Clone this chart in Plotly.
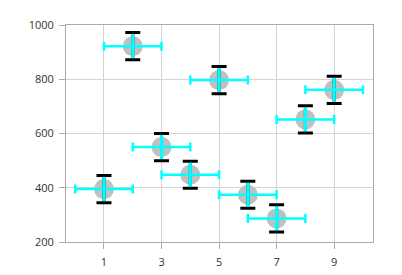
import plotly.graph_objects as go

x_vals = [1, 2, 3, 4, 5, 6, 7, 8, 9]
y_vals = [395, 922, 550, 448, 797, 374, 287, 652, 761]
y_err = [50, 50, 50, 50, 50, 50, 50, 50, 50]
x_err = [1, 1, 1, 1, 1, 1, 1, 1, 1]
x_ticks = [1, 3, 5, 7, 9]
y_ticks = [200, 400, 600, 800, 1000]

fig = go.Figure()
fig.add_trace(go.Scatter(
    x=x_vals, y=y_vals, mode="markers",
    marker=dict(size=20, color="#c0c0c0", line=dict(width=0)),
    hoverinfo="skip", showlegend=False))
fig.add_trace(go.Scatter(
    x=x_vals, y=y_vals, mode="markers",
    marker=dict(size=1, color="rgba(0,0,0,0)"),
    error_y=dict(type="data", array=y_err, color="black", thickness=3, width=7.5),
    hoverinfo="skip", showlegend=False))
fig.add_trace(go.Scatter(
    x=x_vals, y=y_vals, mode="markers",
    marker=dict(size=1, color="rgba(0,0,0,0)"),
    error_y=dict(type="data", array=[e - 5 for e in y_err], color="cyan", thickness=3.2, width=0),
    error_x=dict(type="data", array=x_err, color="cyan", thickness=2.5, width=4.5),
    hoverinfo="skip", showlegend=False))

axis_common = dict(
    showline=True, linecolor="#aaaaaa", linewidth=1, mirror=True,
    showgrid=True, gridcolor="#d4d4d4", gridwidth=1,
    ticks="outside", ticklen=6, tickcolor="#aaaaaa",
    zeroline=False, automargin=False,
    tickfont=dict(family="Open Sans", size=11, color="#333333"),
)
fig.update_xaxes(range=[-0.32, 10.35], tickvals=x_ticks, ticklabelstandoff=4, **axis_common)
fig.update_yaxes(range=[200, 1000], tickvals=y_ticks, ticklabelstandoff=3, **axis_common)

fig.update_layout(
    width=402, height=275,
    margin=dict(l=66, r=29, t=25, b=33),
    paper_bgcolor="white", plot_bgcolor="white",
)
fig.write_html("out.html")
